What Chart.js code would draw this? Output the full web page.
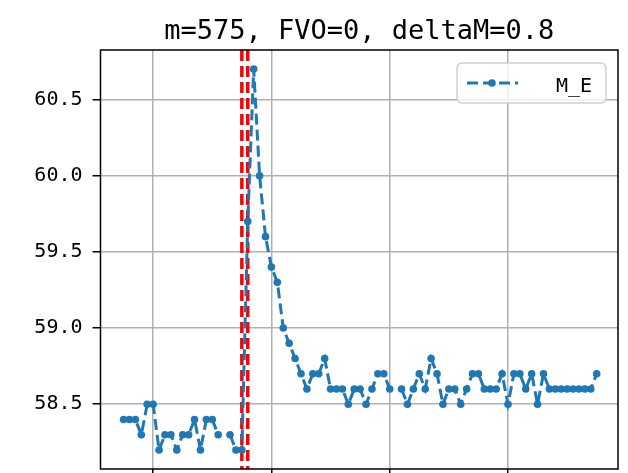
<!DOCTYPE html>
<html>
<head>
<meta charset="utf-8">
<script src="https://cdn.jsdelivr.net/npm/chart.js@4/dist/chart.umd.min.js"></script>
<style>
  html, body { margin: 0; padding: 0; background: #fff; overflow: hidden; }
</style>
</head>
<body>
<canvas id="grafico" width="628" height="473"></canvas>
<script>
// steps on the x axis
const steps = [
  555, 556, 557, 558, 559, 560, 561, 562, 563, 564, 565, 566, 567, 568, 569, 570,
  571, 572, 573, 574, 575, 576, 577, 578, 579, 580, 581, 582, 583, 584, 585, 586,
  587, 588, 589, 590, 591, 592, 593, 594, 595, 596, 597, 598, 599, 600, 601, 602,
  603, 604, 605, 606, 607, 608, 609, 610, 611, 612, 613, 614, 615, 616, 617, 618,
  619, 620, 621, 622, 623, 624, 625, 626, 627, 628, 629, 630, 631, 632, 633, 634, 635
];

// M_E series (null = gap in the curve)
const mE = [
  58.4, 58.4, 58.4, 58.3, 58.5, 58.5, 58.2, 58.3, 58.3, 58.2, 58.3, 58.3, 58.4, 58.2, 58.4, 58.4,
  58.3, null, 58.3, 58.2, 58.2, 59.7, 60.7, 60.0, 59.6, 59.4, 59.3, 59.0, 58.9, 58.8, 58.7, 58.6,
  58.7, 58.7, 58.8, 58.6, 58.6, 58.6, 58.5, 58.6, 58.6, 58.5, 58.6, 58.7, 58.7, 58.6, null, 58.6,
  58.5, 58.6, 58.7, 58.6, 58.8, 58.7, 58.5, 58.6, 58.6, 58.5, 58.6, 58.7, 58.7, 58.6, 58.6, 58.6,
  58.7, 58.5, 58.7, 58.7, 58.6, 58.7, 58.5, 58.7, 58.6, 58.6, 58.6, 58.6, 58.6, 58.6, 58.6, 58.6, 58.7
];

// vertical marker lines (m and m+1)
const changeLines = [575, 576];

// tick positions
const xTicks = [560, 580, 600, 620];
const yTicks = [58.5, 59.0, 59.5, 60.0, 60.5];

const titulo = "m=575, FVO=0, deltaM=0.8";
const serieLabel = "M_E";

const AZUL = "#1f77b4";
const FONTE = "'DejaVu Sans Mono', monospace";

Chart.defaults.font.family = FONTE;
Chart.defaults.color = "#000";

// red dashed vertical lines, under the data
const linhasVermelhas = {
  id: "linhasVermelhas",
  beforeDatasetsDraw(chart) {
    const { ctx, chartArea, scales } = chart;
    ctx.save();
    ctx.beginPath();
    ctx.rect(chartArea.left, chartArea.top, chartArea.right - chartArea.left, chartArea.bottom - chartArea.top);
    ctx.clip();
    ctx.strokeStyle = "#ff0000";
    ctx.lineWidth = 3.5;
    ctx.setLineDash([11, 5]);
    changeLines.forEach((v) => {
      const x = scales.x.getPixelForValue(v);
      ctx.beginPath();
      ctx.moveTo(x, chartArea.top);
      ctx.lineTo(x, chartArea.bottom);
      ctx.stroke();
    });
    ctx.restore();
  },
};

// title over the plot, black frame on all four sides, legend box in the upper right
const moldura = {
  id: "moldura",
  afterDraw(chart) {
    const { ctx, chartArea } = chart;
    ctx.save();
    ctx.strokeStyle = "#000";
    ctx.lineWidth = 1.5;
    ctx.strokeRect(chartArea.left, chartArea.top, chartArea.right - chartArea.left, chartArea.bottom - chartArea.top);

    // titulo centrado no eixo
    ctx.fillStyle = "#000";
    ctx.font = "27px " + FONTE;
    ctx.textAlign = "center";
    ctx.textBaseline = "alphabetic";
    ctx.fillText(titulo, (chartArea.left + chartArea.right) / 2, 38.5);

    // legenda
    const bx = 457, by = 63, bw = 149, bh = 40, r = 5;
    ctx.beginPath();
    ctx.roundRect(bx, by, bw, bh, r);
    ctx.fillStyle = "rgba(255,255,255,0.8)";
    ctx.fill();
    ctx.strokeStyle = "#d0d0d0";
    ctx.lineWidth = 1.5;
    ctx.stroke();

    const ly = 83;
    ctx.strokeStyle = AZUL;
    ctx.lineWidth = 3;
    ctx.setLineDash([11, 5]);
    ctx.beginPath();
    ctx.moveTo(467, ly);
    ctx.lineTo(518, ly);
    ctx.stroke();
    ctx.setLineDash([]);
    ctx.fillStyle = AZUL;
    ctx.beginPath();
    ctx.arc(492, ly, 3.8, 0, Math.PI * 2);
    ctx.fill();

    ctx.fillStyle = "#000";
    ctx.font = "20px " + FONTE;
    ctx.textAlign = "left";
    ctx.fillText(serieLabel, 556, 91.5);
    ctx.restore();
  },
};

new Chart(document.getElementById("grafico"), {
  type: "line",
  data: {
    datasets: [
      {
        label: serieLabel,
        data: steps.map((s, i) => ({ x: s, y: mE[i] })),
        borderColor: AZUL,
        backgroundColor: AZUL,
        borderWidth: 3,
        borderDash: [11, 5],
        pointRadius: 3.8,
        pointBorderWidth: 0,
        pointBackgroundColor: AZUL,
        spanGaps: false,
        tension: 0,
      },
    ],
  },
  options: {
    responsive: false,
    animation: false,
    layout: { padding: { left: 0, right: 10, top: 50, bottom: 0 } },
    plugins: {
      legend: { display: false },
      tooltip: { enabled: false },
      title: { display: false },
    },
    scales: {
      x: {
        type: "linear",
        min: 551.1,
        max: 638.6,
        afterBuildTicks: (scale) => { scale.ticks = xTicks.map((v) => ({ value: v })); },
        afterFit: (scale) => {
          scale.height = 4;
          scale.paddingLeft = 0;
          scale.paddingRight = 0;
        },
        ticks: { display: false },
        border: { display: false },
        grid: { color: "#b0b0b0", lineWidth: 1.5, tickLength: 8, tickColor: "#000", tickWidth: 1.5 },
      },
      y: {
        min: 58.075,
        max: 60.825,
        afterBuildTicks: (scale) => { scale.ticks = yTicks.map((v) => ({ value: v })); },
        afterFit: (scale) => {
          scale.width = 100.5;
          scale.paddingTop = 0;
          scale.paddingBottom = 0;
        },
        ticks: {
          padding: 10,
          font: { size: 20 },
          color: "#000",
          callback: (v) => Number(v).toFixed(1),
        },
        border: { display: false },
        grid: { color: "#b0b0b0", lineWidth: 1.5, tickLength: 8, tickColor: "#000", tickWidth: 1.5 },
      },
    },
  },
  plugins: [linhasVermelhas, moldura],
});
</script>
</body>
</html>
